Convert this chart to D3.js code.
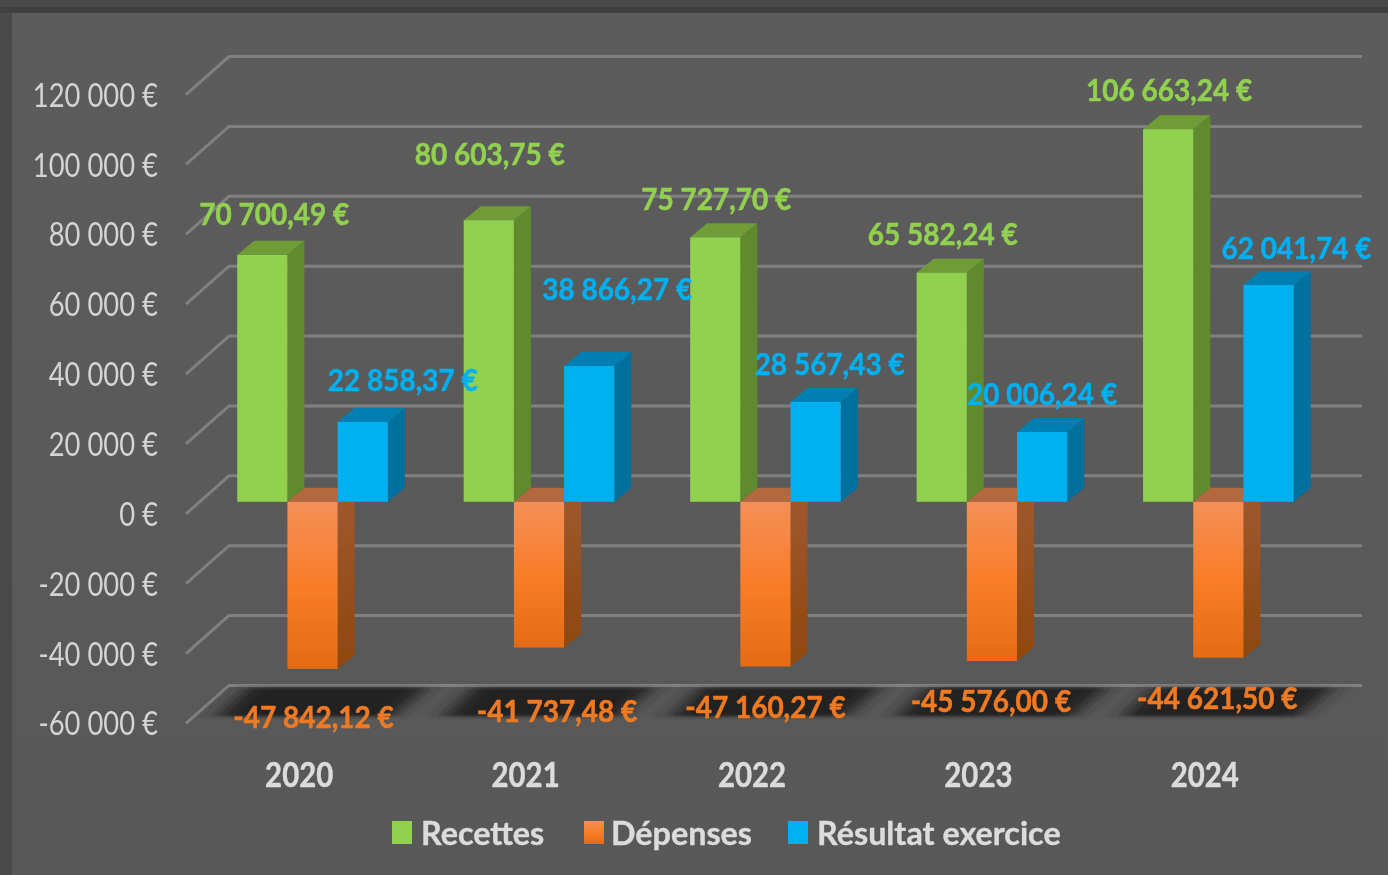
<!DOCTYPE html>
<html>
  <head>
    <meta charset="utf-8">
    <style>
      body { margin: 0; background: #595959; overflow: hidden; }
      text { font-family: Lato, "Open Sans", sans-serif; transform-box: fill-box; transform-origin: center; }
      .tick-label text { fill: #d4d4d4; font-size: 27.4px; transform: scaleY(1.17); }
      .cat-label text { fill: #dcdcdc; font-size: 29.4px; font-weight: 700; stroke: #dcdcdc; stroke-width: .4px; transform: scaleY(1.18); }
      .value { font-size: 28px; font-weight: 700; text-anchor: middle; stroke-width: .5px; transform: scaleY(1.1); }
      .legend-text { fill: #dcdcdc; font-size: 32.3px; font-weight: 700; stroke: #dcdcdc; stroke-width: .4px; }
    </style>
  </head>
  <body>
    <script src="https://d3js.org/d3.v7.min.js"></script>
    <script>
      var categories = ["2020", "2021", "2022", "2023", "2024"];
      var recettes = [70700.49, 80603.75, 75727.70, 65582.24, 106663.24];
      var depenses = [-47842.12, -41737.48, -47160.27, -45576.00, -44621.50];
      var resultat = [22858.37, 38866.27, 28567.43, 20006.24, 62041.74];
      var yTicks = [-60000, -40000, -20000, 0, 20000, 40000, 60000, 80000, 100000, 120000];
      var seriesNames = ["Recettes", "Dépenses", "Résultat exercice"];

      var width = 1388, height = 875;

      // the labels were moved by hand in the original, so each one has its own nudge
      var nudges = [
        { dx: [11, 0, 0, 0, 0], dy: [-41, -66, -38, -39, -39] },
        { dx: [0, 17, -1, -2, -2], dy: [48, 64, 41, 40, 40] },
        { dx: [39, 27, 13, -1, 27], dy: [-42, -77, -38, -38, -37] }
      ];

      var barDepth = { x: 17, y: 14 };   // side face of a bar
      var backWall = { x: 29, y: 26 };   // bar plane to back wall
      var frontEdge = { x: 14, y: 12 };  // bar plane to front of the floor

      var fr = d3.formatLocale({ decimal: ",", thousands: " ", grouping: [3], currency: ["", " €"], minus: "-" });
      var euro0 = fr.format("$,.0f"), euro2 = fr.format("$,.2f");

      var x = d3.scaleBand().domain(categories).range([199.3, 1331.6]).paddingInner(.335).paddingOuter(.1675);
      var xSeries = d3.scaleBand().domain(d3.range(3)).range([0, x.bandwidth()]);
      var y = d3.scaleLinear().domain([-60000, 120000]).range([711.4, 82.6]);

      var series = [
        { values: recettes, front: "#92d14f", side: "#5f8a2e", top: "#6f9c39", text: "#92d14f" },
        { values: depenses, front: "url(#orange-front)", side: "url(#orange-side)", top: "#b4673d", text: "#f07a22" },
        { values: resultat, front: "#00b0f0", side: "#006f9f", top: "#0080b2", text: "#00b0f0" }
      ];

      var svg = d3.select("body").append("svg")
          .attr("width", width)
          .attr("height", height)
          .style("display", "block");

      var defs = svg.append("defs");

      var bgGradient = defs.append("linearGradient")
          .attr("id", "bg").attr("x1", 0).attr("y1", 0).attr("x2", 0).attr("y2", 1);
      bgGradient.append("stop").attr("offset", "0%").attr("stop-color", "#5c5c5c");
      bgGradient.append("stop").attr("offset", "100%").attr("stop-color", "#585858");

      var orangeFront = defs.append("linearGradient")
          .attr("id", "orange-front").attr("x1", 0).attr("y1", 0).attr("x2", 0).attr("y2", 1);
      orangeFront.append("stop").attr("offset", "0%").attr("stop-color", "#f48f58");
      orangeFront.append("stop").attr("offset", "50%").attr("stop-color", "#f97d28");
      orangeFront.append("stop").attr("offset", "100%").attr("stop-color", "#e46b15");

      var orangeSide = defs.append("linearGradient")
          .attr("id", "orange-side").attr("x1", 0).attr("y1", 0).attr("x2", 0).attr("y2", 1);
      orangeSide.append("stop").attr("offset", "0%").attr("stop-color", "#9f5930");
      orangeSide.append("stop").attr("offset", "100%").attr("stop-color", "#8f470e");

      defs.append("filter").attr("id", "soft")
          .attr("x", 0).attr("y", 0).attr("width", 1388).attr("height", 875)
          .attr("filterUnits", "userSpaceOnUse")
        .append("feGaussianBlur").attr("stdDeviation", .7);

      defs.append("filter").attr("id", "floor-shadow")
          .attr("x", "-20%").attr("y", "-20%").attr("width", "140%").attr("height", "140%")
        .append("feGaussianBlur").attr("stdDeviation", "11 1.5");

      // window frame
      svg.append("rect").attr("width", width).attr("height", height).attr("fill", "#4a4a4a");
      svg.append("rect").attr("y", 7).attr("width", width).attr("height", 6).attr("fill", "#404040");
      svg.append("rect").attr("x", 12).attr("y", 13).attr("width", width).attr("height", height)
          .attr("fill", "url(#bg)");

      var chart = svg.append("g").attr("filter", "url(#soft)");

      // gridlines: back wall plus the diagonal down to the front edge
      chart.append("g").selectAll("path")
          .data(yTicks)
        .enter().append("path")
          .attr("fill", "none")
          .attr("stroke", "#808080")
          .attr("stroke-width", 3)
          .attr("d", function(d){
            var yb = y(d) - backWall.y, yf = y(d) + frontEdge.y;
            return "M186," + yf + "L" + (186 + backWall.x + frontEdge.x) + "," + yb + "L1362," + yb;
          });

      // dark patches on the floor behind the negative labels
      chart.append("g").selectAll("path")
          .data(categories)
        .enter().append("path")
          .attr("fill", "#222222")
          .attr("filter", "url(#floor-shadow)")
          .attr("d", function(d){
            var x0 = x(d), yb = y(-60000) - backWall.y + 2, yf = y(-60000) + 5;
            return "M" + (x0 - 20) + "," + yf + "L" + (x0 + 10) + "," + yb +
                   "L" + (x0 + 190) + "," + yb + "L" + (x0 + 155) + "," + yf + "Z";
          });

      // bars, drawn left to right so a later bar covers the one before it
      categories.forEach(function(cat, i){
        series.forEach(function(s, k){
          var v = s.values[i];
          var x0 = x(cat) + xSeries(k), x1 = x0 + xSeries.bandwidth();
          var y0 = y(0), yv = y(v);
          var top = Math.min(y0, yv), bottom = Math.max(y0, yv);
          var dx = barDepth.x, dy = barDepth.y;
          var g = chart.append("g");

          g.append("polygon")
              .attr("fill", s.side)
              .attr("points", [[x1, top], [x1 + dx, top - dy], [x1 + dx, bottom - dy], [x1, bottom]].join(" "));
          g.append("polygon")
              .attr("fill", s.top)
              .attr("points", [[x0, top], [x0 + dx, top - dy], [x1 + dx, top - dy], [x1, top]].join(" "));
          g.append("rect")
              .attr("x", x0)
              .attr("y", top)
              .attr("width", x1 - x0)
              .attr("height", bottom - top)
              .attr("fill", s.front);
        });
      });

      // value labels
      series.forEach(function(s, k){
        chart.append("g").selectAll("text")
            .data(s.values)
          .enter().append("text")
            .attr("class", "value")
            .attr("fill", s.text)
            .attr("stroke", s.text)
            .attr("x", function(d, i){
              return x(categories[i]) + xSeries(k) + xSeries.bandwidth() / 2 + nudges[k].dx[i] + 1;
            })
            .attr("y", function(d, i){ return y(d) + nudges[k].dy[i]; })
            .attr("dy", ".35em")
            .text(function(d){ return euro2(d); });
      });

      // axes
      var yAxis = d3.axisLeft(y).tickValues(yTicks).tickSize(0).tickPadding(0).tickFormat(function(d){ return euro0(d); });
      chart.append("g")
          .attr("class", "tick-label")
          .attr("transform", "translate(158,13)")
          .call(yAxis)
          .call(function(g){ g.select(".domain").remove(); });

      var xCat = d3.scaleBand().domain(categories).range([186, 1318]);
      chart.append("g")
          .attr("class", "cat-label")
          .attr("transform", "translate(0,764)")
          .call(d3.axisBottom(xCat).tickSize(0).tickPadding(0))
          .call(function(g){ g.select(".domain").remove(); });

      // legend
      var legendX = [392, 584, 788];
      var legendTextX = [29, 27, 29];
      var legend = chart.append("g").selectAll("g")
          .data(seriesNames)
        .enter().append("g")
          .attr("transform", function(d, i){ return "translate(" + legendX[i] + ",821)"; });

      legend.append("rect")
          .attr("width", 20)
          .attr("height", 23)
          .attr("fill", function(d, i){ return series[i].front; });

      legend.append("text")
          .attr("class", "legend-text")
          .attr("x", function(d, i){ return legendTextX[i]; })
          .attr("y", 24)
          .text(function(d){ return d; });
    </script>
  </body>
</html>
